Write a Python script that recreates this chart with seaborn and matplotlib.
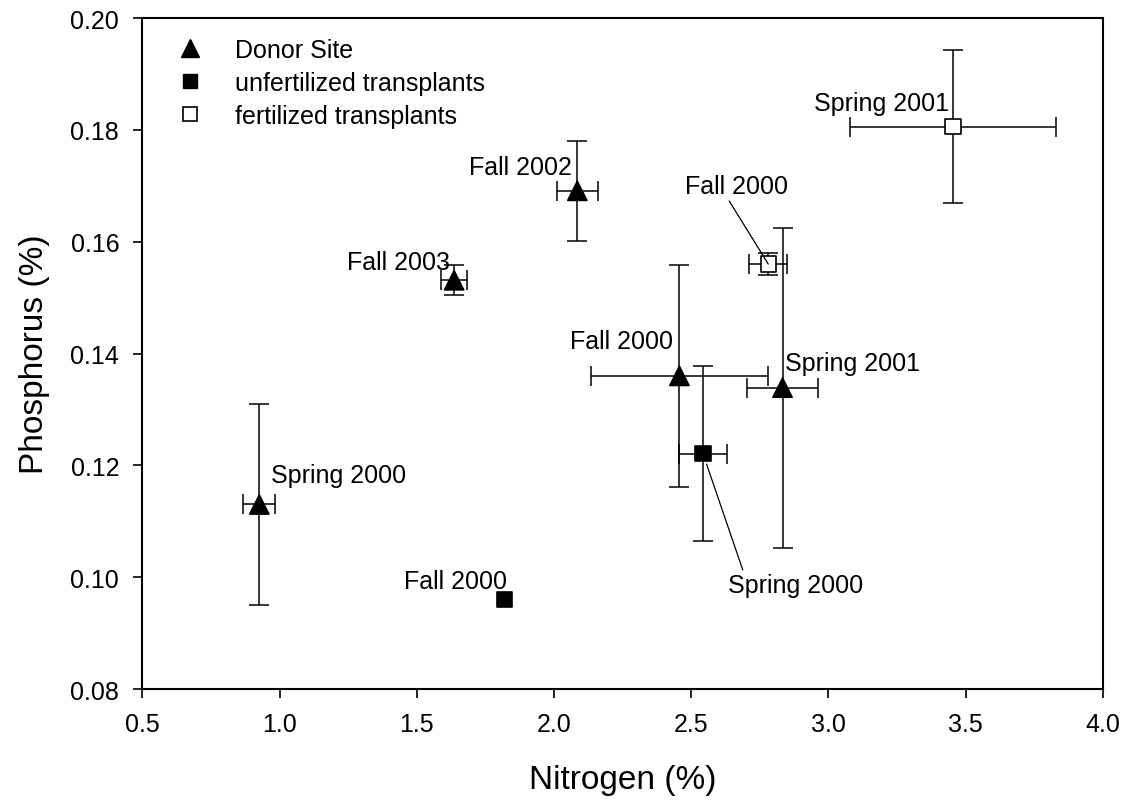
import numpy as np
import pandas as pd
import matplotlib
matplotlib.use("Agg")
import matplotlib.pyplot as plt
import seaborn as sns
from matplotlib.lines import Line2D

# ---- data ----
groups = ["Donor Site", "Donor Site", "Donor Site", "Donor Site", "Donor Site",
          "unfertilized transplants", "unfertilized transplants",
          "fertilized transplants", "fertilized transplants"]
seasons = ["Spring 2000", "Fall 2003", "Fall 2002", "Fall 2000", "Spring 2001",
           "Spring 2000", "Fall 2000",
           "Fall 2000", "Spring 2001"]
nitrogen = [0.926, 1.636, 2.085, 2.457, 2.833, 2.543, 1.820, 2.781, 3.454]
phosphorus = [0.1130, 0.1531, 0.1691, 0.1360, 0.1339, 0.1221, 0.0960, 0.1560, 0.1806]
nitrogen_err = [0.058, 0.048, 0.075, 0.322, 0.130, 0.087, 0.0, 0.070, 0.374]
phosphorus_err = [0.0180, 0.0027, 0.0089, 0.0199, 0.0286, 0.0156, 0.0, 0.0020, 0.0137]

x_ticks = [0.5, 1.0, 1.5, 2.0, 2.5, 3.0, 3.5, 4.0]
y_ticks = [0.08, 0.10, 0.12, 0.14, 0.16, 0.18, 0.20]

# ---- layout / style (not data) ----
# label offsets in points (dx, dy), horizontal alignment, leader line?
label_layout = [
    (8.2, 20.9, "left", False),
    (-2.9, 13.2, "right", False),
    (-4.0, 16.8, "right", False),
    (-4.8, 25.2, "right", False),
    (1.7, 17.8, "left", False),
    (17.8, -94.8, "left", True),
    (1.8, 13.7, "right", False),
    (-60.0, 56.4, "left", True),
    (-2.7, 17.1, "right", False),
]
SMALL = 18
BIG = 24

df = pd.DataFrame({
    "group": groups, "season": seasons,
    "Nitrogen": nitrogen, "Phosphorus": phosphorus,
    "n_err": nitrogen_err, "p_err": phosphorus_err,
})

sns.set_theme(style="ticks")
plt.rcParams["font.family"] = ["Liberation Sans", "DejaVu Sans"]
plt.rcParams["text.color"] = "black"
plt.rcParams["axes.labelcolor"] = "black"
plt.rcParams["xtick.color"] = "black"
plt.rcParams["ytick.color"] = "black"

fig = plt.figure(figsize=(11.24, 8.03), dpi=100)
ax = fig.add_axes([0.1267, 0.1407, 0.8544, 0.8356])

# error bars
mask = (df["n_err"] > 0) | (df["p_err"] > 0)
sub = df[mask]
ax.errorbar(sub["Nitrogen"], sub["Phosphorus"], xerr=sub["n_err"], yerr=sub["p_err"],
            fmt="none", ecolor="black", elinewidth=1.1, capsize=7.5, capthick=1.1, zorder=2)

marker_map = {"Donor Site": "^", "unfertilized transplants": "s", "fertilized transplants": "s"}
palette = {"Donor Site": "black", "unfertilized transplants": "black", "fertilized transplants": "white"}
size_map = {"Donor Site": 190, "unfertilized transplants": 120, "fertilized transplants": 120}

sns.scatterplot(data=df, x="Nitrogen", y="Phosphorus", hue="group", style="group",
                size="group", sizes=size_map, markers=marker_map, palette=palette,
                edgecolor="black", linewidth=1.2, legend=False, zorder=3, ax=ax)

# point labels
for (xv, yv, txt), (dx, dy, ha, lead) in zip(zip(nitrogen, phosphorus, seasons), label_layout):
    if lead:
        relx = 0.12 if dy < 0 else 0.41
        rely = 1.0 if dy < 0 else 0.0
        shrinkB = 8 if dy < 0 else 0
        ax.annotate(txt, xy=(xv, yv), xytext=(dx, dy), textcoords="offset points",
                    ha=ha, va="center", fontsize=SMALL, color="black", zorder=5,
                    arrowprops=dict(arrowstyle="-", color="black", lw=0.9,
                                    shrinkA=0, shrinkB=shrinkB, relpos=(relx, rely)))
    else:
        ax.annotate(txt, xy=(xv, yv), xytext=(dx, dy), textcoords="offset points",
                    ha=ha, va="center", fontsize=SMALL, color="black", zorder=5)

ax.set_xlim(x_ticks[0], x_ticks[-1])
ax.set_ylim(y_ticks[0], y_ticks[-1])
ax.set_xticks(x_ticks)
ax.set_yticks(y_ticks)
ax.set_xticklabels([f"{t:.1f}" for t in x_ticks])
ax.set_yticklabels([f"{t:.2f}" for t in y_ticks])
ax.tick_params(axis="both", direction="out", length=6.7, width=1.2, labelsize=SMALL,
               color="black", labelcolor="black", pad=10)
ax.set_xlabel("Nitrogen (%)", fontsize=BIG, labelpad=20)
ax.set_ylabel("Phosphorus (%)", fontsize=BIG, labelpad=15)
for s in ax.spines.values():
    s.set_linewidth(1.5)
    s.set_color("black")
    s.set_visible(True)

handles = [
    Line2D([], [], linestyle="none", marker="^", markersize=13.5, markerfacecolor="black",
           markeredgecolor="black"),
    Line2D([], [], linestyle="none", marker="s", markersize=10.5, markerfacecolor="black",
           markeredgecolor="black"),
    Line2D([], [], linestyle="none", marker="s", markersize=10.5, markerfacecolor="white",
           markeredgecolor="black", markeredgewidth=1.2),
]
ax.legend(handles, ["Donor Site", "unfertilized transplants", "fertilized transplants"],
          loc="upper left", bbox_to_anchor=(0.0374, 0.9700), frameon=False,
          fontsize=SMALL, borderpad=0, borderaxespad=0, handlelength=0.95,
          handletextpad=1.3, labelspacing=0.36)

fig.savefig("out.png", dpi=100, facecolor="white")
